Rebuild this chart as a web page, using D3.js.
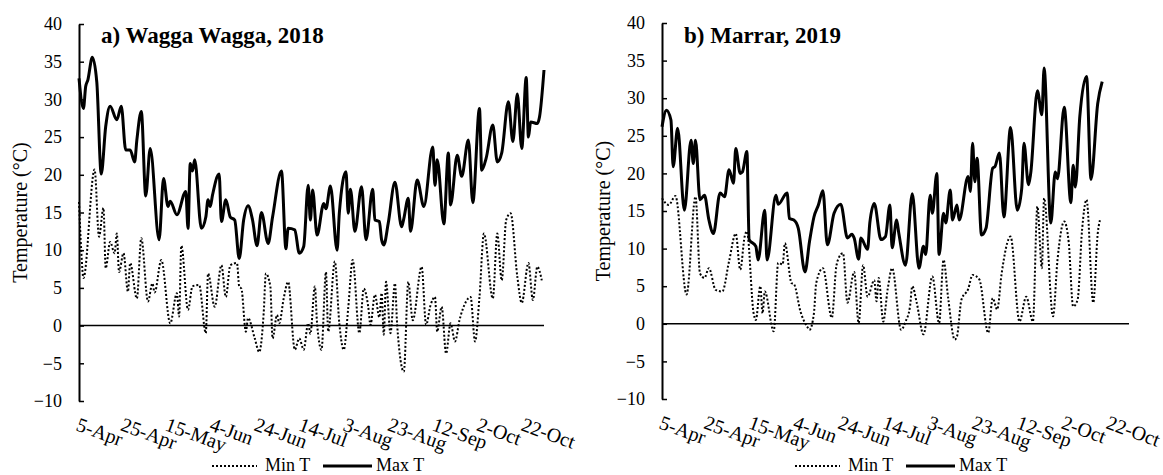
<!DOCTYPE html>
<html>
<head>
<meta charset="utf-8">
<script src="https://cdn.jsdelivr.net/npm/d3@7"></script>
<style>
  body { margin: 0; background: #fff; }
  svg { display: block; }
  text { font-family: "Liberation Serif", "Times New Roman", serif; fill: #000; }
</style>
</head>
<body>
<svg id="chart" width="1163" height="475"></svg>
<script>
// x ticks: every 20 days from 5-Apr (day 0)
const tickDays = [0, 20, 40, 60, 80, 100, 120, 140, 160, 180, 200];
const tickLabels = ['5-Apr', '25-Apr', '15-May', '4-Jun', '24-Jun', '14-Jul', '3-Aug', '23-Aug', '12-Sep', '2-Oct', '22-Oct'];
const yTicks = [-10, -5, 0, 5, 10, 15, 20, 25, 30, 35, 40];

// [day since 5-Apr, °C]
const waggaMax = [[0,32.8],[2,28.8],[3,31.7],[4,32.6],[6,35.6],[8,32.3],[10,20.1],[12,26.4],[14,29.1],[17,27.3],[19,29.1],[21,23.3],[23,23.3],[25,21.7],[26,24.6],[28,28.4],[30,17.2],[32,23.5],[36,11.4],[38,19.5],[40,15.8],[41,16.5],[44,14.7],[48,17.8],[49,12.9],[50,21.5],[51,20.5],[52,22.0],[55,12.9],[57,14.4],[58,16.7],[59,15.8],[60,17.3],[63,20.1],[64,13.8],[66,16.7],[68,14.4],[70,14.0],[72,8.9],[74,14.0],[76,15.9],[78,14.0],[80,10.6],[82,15.0],[85,10.9],[87,14.4],[91,20.5],[93,10.2],[94,12.9],[97,12.7],[99,9.6],[101,10.5],[103,18.6],[104,14.0],[105,18.0],[107,12.0],[110,16.2],[111,15.5],[113,18.5],[116,10.0],[117,14.9],[120,20.4],[121,14.9],[122,18.1],[124,12.5],[127,18.4],[129,11.4],[132,18.1],[133,14.0],[135,13.8],[136,11.4],[137,10.7],[139,13.6],[142,19.0],[145,13.1],[146,14.2],[148,16.9],[149,12.5],[152,19.3],[155,15.8],[159,23.7],[160,18.6],[161,22.0],[164,13.5],[166,22.9],[167,16.0],[170,22.6],[172,19.8],[175,24.6],[177,16.3],[180,28.8],[181,20.6],[183,22.2],[186,26.6],[188,21.7],[190,22.9],[193,29.7],[195,24.4],[197,30.7],[199,23.5],[201,32.9],[202,25.0],[203,27.0],[206,26.8],[207,27.7],[209,33.9]];

const waggaMin = [[0,16.4],[1,10.0],[2,6.3],[7,20.7],[9,11.8],[11,15.6],[12,7.6],[14,11.1],[16,9.6],[17,12.2],[18,7.1],[20,9.6],[22,4.5],[23,8.3],[26,3.6],[28,11.6],[31,3.2],[33,5.6],[34,4.4],[37,8.7],[41,0.3],[44,4.3],[45,1.2],[46,10.6],[49,2.1],[51,5.2],[54,5.4],[57,-1.0],[58,6.9],[61,2.5],[64,8.0],[66,3.8],[68,8.0],[71,8.3],[72,5.2],[73,4.9],[75,-0.8],[76,1.0],[79,-1.7],[81,-3.5],[83,1.6],[84,6.9],[86,5.2],[87,-1.7],[89,1.4],[90,0.3],[92,3.6],[94,5.8],[97,-3.2],[99,-1.7],[101,-3.2],[103,0.3],[104,-1.1],[106,5.2],[107,0.3],[109,-3.2],[111,7.1],[112,-0.8],[115,8.5],[117,0.3],[119,-3.2],[121,2.3],[123,8.7],[126,-1.0],[128,4.9],[130,2.5],[131,0.1],[133,4.1],[135,1.1],[136,4.3],[137,-1.2],[138,5.8],[140,-1.0],[142,5.6],[143,0.1],[146,-6.1],[148,5.8],[150,0.7],[154,7.8],[156,0.1],[158,2.7],[160,3.8],[161,-0.8],[163,2.5],[165,-3.7],[167,0.3],[169,-2.1],[171,0.7],[174,3.2],[176,3.8],[178,-2.1],[180,3.8],[182,12.2],[186,3.6],[188,12.2],[190,6.0],[192,14.0],[194,14.9],[197,6.5],[199,3.0],[202,8.3],[204,3.4],[206,7.8],[208,6.0]];

const marrarMax = [[0,26.2],[2,28.4],[4,27.1],[5,20.9],[7,26.0],[10,15.1],[13,24.4],[14,21.3],[15,24.4],[17,16.5],[19,17.1],[21,13.8],[23,12.0],[26,17.4],[28,16.9],[30,20.5],[32,18.7],[33,23.3],[35,20.0],[36,20.2],[38,22.9],[39,11.2],[42,10.3],[43,8.5],[46,15.1],[47,8.5],[51,17.1],[52,15.9],[56,17.4],[57,14.0],[59,13.8],[61,12.7],[64,6.9],[66,10.9],[68,14.2],[70,15.8],[72,17.7],[74,10.5],[77,14.7],[80,15.9],[83,11.4],[85,11.9],[86,11.4],[88,8.6],[89,11.4],[92,9.9],[93,13.4],[95,16.0],[98,11.2],[100,11.6],[102,15.8],[103,10.1],[105,13.8],[106,12.0],[109,7.8],[112,17.3],[115,7.4],[117,10.3],[118,9.2],[120,17.1],[121,14.7],[123,20.0],[124,9.2],[126,14.7],[127,13.4],[129,17.8],[130,13.8],[132,15.8],[133,13.8],[137,19.6],[138,17.6],[139,24.0],[140,18.9],[141,22.0],[143,11.8],[145,12.7],[148,20.7],[149,20.9],[151,22.7],[153,14.2],[156,26.1],[159,15.1],[161,18.0],[162,24.0],[164,18.5],[165,20.0],[168,31.0],[170,27.8],[171,34.0],[174,13.4],[176,20.2],[177,19.3],[180,28.8],[183,16.1],[184,21.1],[185,18.2],[187,27.6],[190,32.9],[192,19.2],[195,29.3],[197,32.2]];

const marrarMin = [[0,16.7],[3,15.8],[6,17.0],[11,3.9],[15,16.9],[17,6.7],[19,6.1],[21,7.4],[24,4.5],[27,4.3],[30,8.3],[33,12.0],[35,7.2],[37,11.6],[38,12.3],[41,1.4],[42,0.5],[44,5.0],[45,1.4],[46,4.3],[50,-1.0],[52,8.1],[54,7.9],[55,10.7],[58,5.4],[59,5.3],[62,1.6],[65,-0.4],[66,-0.8],[68,1.4],[69,5.4],[72,7.4],[76,0.8],[78,7.6],[79,8.7],[81,9.4],[83,2.8],[86,6.9],[88,0.1],[90,7.8],[92,3.6],[95,5.8],[96,3.0],[97,6.1],[99,0.3],[101,4.6],[103,7.4],[107,-0.8],[109,0.3],[111,2.3],[112,5.0],[114,2.8],[117,-1.4],[121,6.3],[124,0.1],[126,8.5],[128,3.6],[131,-2.1],[132,-1.7],[134,3.2],[137,4.6],[139,6.5],[142,5.9],[146,-1.2],[148,3.4],[150,1.9],[152,6.7],[156,11.6],[160,0.3],[163,3.6],[166,0.3],[168,15.6],[170,7.4],[171,16.7],[175,1.0],[177,8.5],[180,13.6],[182,10.9],[184,2.3],[186,3.2],[188,12.5],[190,16.5],[193,2.8],[195,12.0],[196,13.8]];

const panels = [
  { title: 'a) Wagga Wagga, 2018', max: waggaMax, min: waggaMin, left: 79, right: 544, top: 24, bottom: 401 },
  { title: 'b) Marrar, 2019', max: marrarMax, min: marrarMin, left: 662, right: 1129, top: 23, bottom: 399 }
];

const svg = d3.select('#chart');

panels.forEach(p => {
  const x = d3.scaleLinear().domain([0, 209]).range([p.left, p.right]);
  const y = d3.scaleLinear().domain([-10, 40]).range([p.bottom, p.top]);
  const g = svg.append('g');

  const line = d3.line()
    .x(d => x(d[0]))
    .y(d => y(d[1]))
    .curve(d3.curveMonotoneX);

  // zero line
  g.append('line')
    .attr('x1', x(0)).attr('x2', p.right)
    .attr('y1', y(0)).attr('y2', y(0))
    .attr('stroke', '#000').attr('stroke-width', 1.5);

  g.append('path')
    .datum(p.min)
    .attr('d', line)
    .attr('fill', 'none')
    .attr('stroke', '#000')
    .attr('stroke-width', 2)
    .attr('stroke-dasharray', '2,2');

  g.append('path')
    .datum(p.max)
    .attr('d', line)
    .attr('fill', 'none')
    .attr('stroke', '#000')
    .attr('stroke-width', 3)
    .attr('stroke-linejoin', 'round');

  // y axis with inside ticks
  const yAxis = g.append('g')
    .attr('transform', `translate(${p.left},0)`)
    .call(d3.axisLeft(y).tickValues(yTicks).tickSize(-5).tickSizeOuter(0).tickPadding(17));
  yAxis.select('.domain').attr('stroke-width', 2);
  yAxis.selectAll('.tick line').attr('stroke-width', 1.5);
  yAxis.selectAll('text')
    .style('font-size', '18px')
    .style('font-family', '"Liberation Serif", serif');

  g.append('text')
    .attr('transform', `translate(${p.left - 52},${(p.top + p.bottom) / 2}) rotate(-90)`)
    .attr('text-anchor', 'middle')
    .style('font-size', '20px')
    .text('Temperature (°C)');

  // x labels, rotated
  g.selectAll('.xlab')
    .data(tickDays)
    .join('text')
    .attr('class', 'xlab')
    .attr('transform', d => `translate(${x(d) - 4},${p.bottom + 29}) rotate(20)`)
    .style('font-size', '20px')
    .text((d, i) => tickLabels[i]);

  g.append('text')
    .attr('x', p.left + 22)
    .attr('y', 43)
    .style('font-size', '23px')
    .style('font-weight', 'bold')
    .text(p.title);

  // legend
  const lx = p.left + 133;
  const ly = 466;
  g.append('line')
    .attr('x1', lx).attr('x2', lx + 45).attr('y1', ly).attr('y2', ly)
    .attr('stroke', '#000').attr('stroke-width', 2).attr('stroke-dasharray', '2,2');
  g.append('text').attr('x', lx + 53).attr('y', ly + 5).style('font-size', '18px').text('Min T');
  g.append('line')
    .attr('x1', lx + 111).attr('x2', lx + 160).attr('y1', ly).attr('y2', ly)
    .attr('stroke', '#000').attr('stroke-width', 3);
  g.append('text').attr('x', lx + 164).attr('y', ly + 5).style('font-size', '18px').text('Max T');
});
</script>
</body>
</html>
